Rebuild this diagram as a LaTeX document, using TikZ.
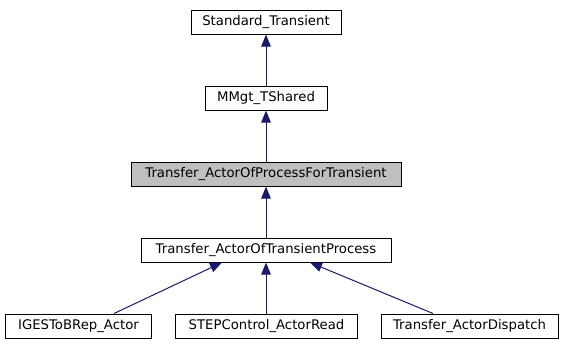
\documentclass[tikz,border=0pt]{standalone}
\usepackage{fontspec}
\setmainfont{DejaVu Sans}
\usetikzlibrary{arrows.meta}
\definecolor{edgeblue}{HTML}{191970}
\definecolor{focusgray}{HTML}{BFBFBF}
\tikzset{
  classbox/.style={draw=black, line width=1bp, fill=white, minimum height=24bp,
    inner sep=0pt, font=\fontsize{13.3}{15}\selectfont, text=black},
  focusbox/.style={classbox, fill=focusgray},
  inherit/.style={draw=edgeblue, line width=1bp,
    {Triangle[length=12bp,width=9.5bp,fill=edgeblue]}-}
}
\begin{document}
\begin{tikzpicture}[x=1bp,y=-1bp]
  \useasboundingbox (0,0) rectangle (565,349);
  % class nodes, placed by their centres
  \node[classbox, minimum width=150bp] (st) at (266,22) {Standard\_Transient};
  \node[classbox, minimum width=122bp] (mm) at (266,98) {MMgt\_TShared};
  \node[focusbox, minimum width=270bp] (ap) at (266,174) {Transfer\_ActorOfProcessForTransient};
  \node[classbox, minimum width=250bp] (at) at (266,250) {Transfer\_ActorOfTransientProcess};
  \node[classbox, minimum width=146bp] (ig) at (78.5,326) {IGESToBRep\_Actor};
  \node[classbox, minimum width=182bp] (sc) at (266.5,326) {STEPControl\_ActorRead};
  \node[classbox, minimum width=177bp] (td) at (469.5,326) {Transfer\_ActorDispatch};
  % inheritance edges, head at the base class
  \draw[inherit] (st.south) -- (mm.north);
  \draw[inherit] (mm.south) -- (ap.north);
  \draw[inherit] (ap.south) -- (at.north);
  \draw[inherit] (at.south) -- (sc.north -| at.south);
  \draw[inherit] ([xshift=-44bp]at.south) -- ([xshift=35.5bp]ig.north);
  \draw[inherit] ([xshift=44bp]at.south) -- ([xshift=-36.5bp]td.north);
\end{tikzpicture}
\end{document}
